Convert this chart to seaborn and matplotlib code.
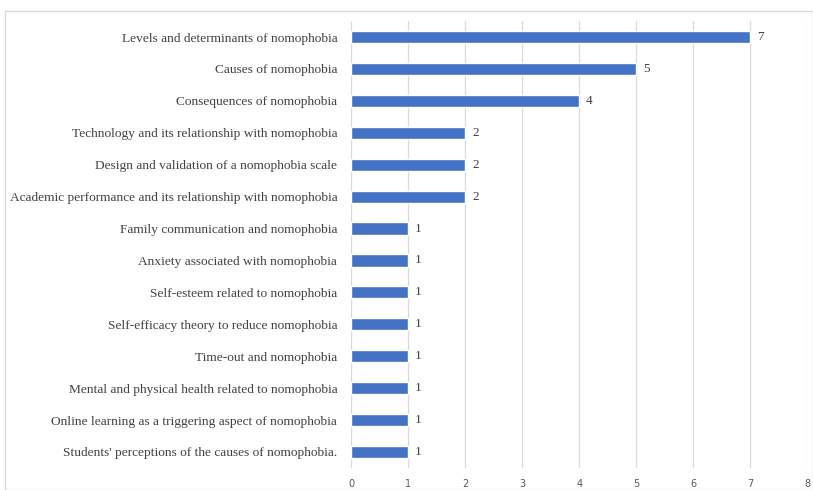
import matplotlib
matplotlib.use("Agg")
import matplotlib.pyplot as plt
import seaborn as sns
import pandas as pd
from matplotlib.patches import Rectangle

categories = [
    "Levels and determinants of nomophobia",
    "Causes of nomophobia",
    "Consequences of nomophobia",
    "Technology and its relationship with nomophobia",
    "Design and validation of a nomophobia scale",
    "Academic performance and its relationship with nomophobia",
    "Family communication and nomophobia",
    "Anxiety associated with nomophobia",
    "Self-esteem related to nomophobia",
    "Self-efficacy theory to reduce nomophobia",
    "Time-out and nomophobia",
    "Mental and physical health related to nomophobia",
    "Online learning as a triggering aspect of nomophobia",
    "Students' perceptions of the causes of nomophobia.",
]
counts = [7, 5, 4, 2, 2, 2, 1, 1, 1, 1, 1, 1, 1, 1]
x_ticks = [0, 1, 2, 3, 4, 5, 6, 7, 8]

df = pd.DataFrame({"topic": categories, "count": counts})

sns.set_theme(style="white")
fig = plt.figure(figsize=(8.13, 4.90), dpi=100)
ax = fig.add_axes([0.432, 0.045, 0.561, 0.912])

sns.barplot(data=df, y="topic", x="count", orient="h", color="#4472C4",
            saturation=1, width=0.38, ax=ax, zorder=3)

ax.set_xlim(0, 8)
ax.set_ylim(len(categories) - 0.5, -0.5)
ax.set_xticks(x_ticks)
ax.set_xticklabels([str(t) for t in x_ticks], fontsize=7, color="#595959",
                   family="DejaVu Sans")
ax.tick_params(axis="x", length=0, pad=8)
ax.tick_params(axis="y", length=0, pad=10)
for lab in ax.get_yticklabels():
    lab.set_family("Liberation Serif")
    lab.set_fontsize(9.6)
    lab.set_color("#404040")
ax.set_xlabel("")
ax.set_ylabel("")
ax.grid(axis="x", color="#D9D9D9", linewidth=0.9, zorder=0)
ax.grid(axis="y", visible=False)
for s in ax.spines.values():
    s.set_visible(False)

for i, v in enumerate(counts):
    ax.text(v + 0.12, i, str(v), va="center", ha="left", fontsize=9.6,
            family="Liberation Serif", color="#404040")

fig.patches.append(Rectangle((0.006, 0.0), 0.994, 0.978, transform=fig.transFigure,
                             fill=False, edgecolor="#D9D9D9", linewidth=1.0))

fig.savefig("out.png", dpi=100)
